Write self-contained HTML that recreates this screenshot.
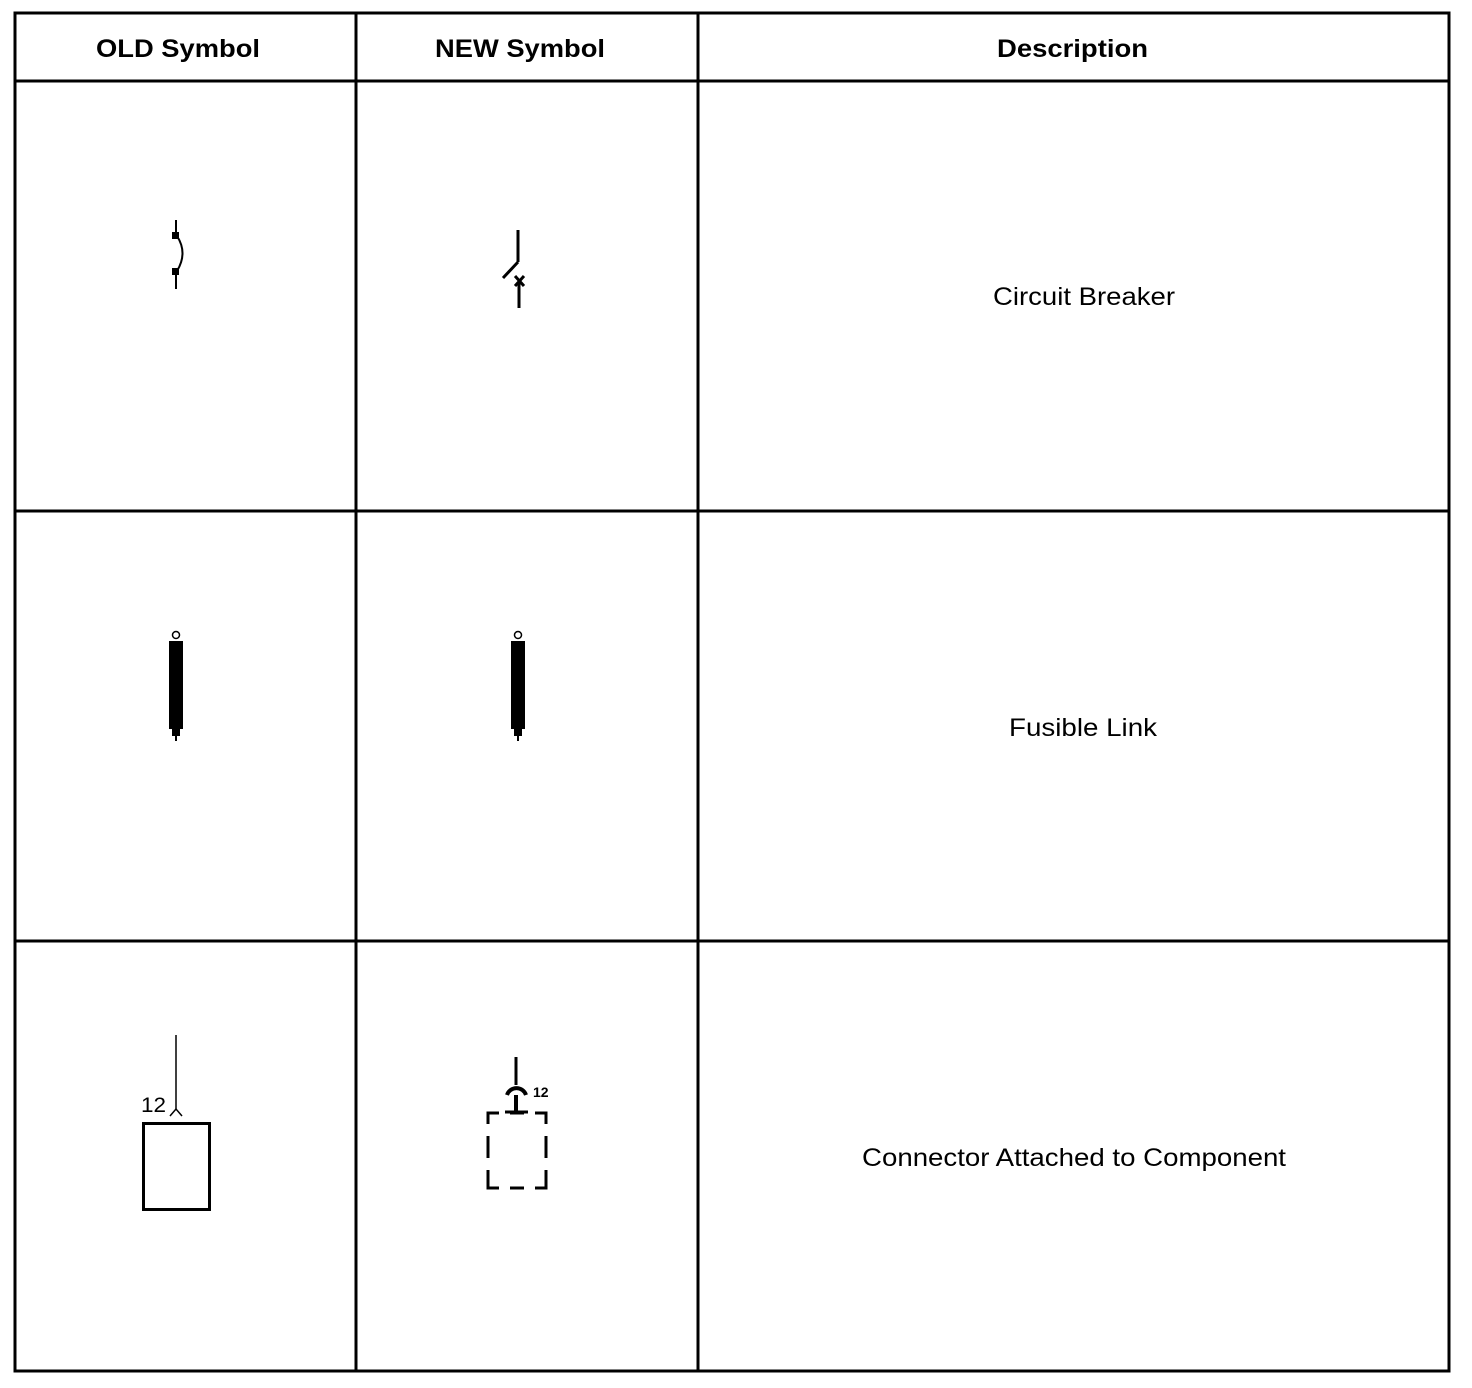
<!DOCTYPE html>
<html><head><style>
html,body{margin:0;padding:0;background:#fff;}
svg{display:block;}
text{font-family:"Liberation Sans",Arial,sans-serif;fill:#000;}
</style></head><body>
<svg width="1472" height="1388" viewBox="0 0 1472 1388" xmlns="http://www.w3.org/2000/svg">
<g stroke="#000" stroke-width="3" fill="none">
<rect x="15" y="13" width="1434" height="1358"/>
<line x1="356" y1="13" x2="356" y2="1371"/>
<line x1="698" y1="13" x2="698" y2="1371"/>
<line x1="15" y1="81" x2="1449" y2="81"/>
<line x1="15" y1="511" x2="1449" y2="511"/>
<line x1="15" y1="941" x2="1449" y2="941"/>
</g>
<g font-size="25" font-weight="bold">
<text x="96" y="57" textLength="164" lengthAdjust="spacingAndGlyphs">OLD Symbol</text>
<text x="435" y="57" textLength="170" lengthAdjust="spacingAndGlyphs">NEW Symbol</text>
<text x="997" y="57" textLength="151" lengthAdjust="spacingAndGlyphs">Description</text>
</g>
<g font-size="25">
<text x="993" y="305" textLength="182" lengthAdjust="spacingAndGlyphs">Circuit Breaker</text>
<text x="1009" y="736" textLength="148" lengthAdjust="spacingAndGlyphs">Fusible Link</text>
<text x="862" y="1166" textLength="424" lengthAdjust="spacingAndGlyphs">Connector Attached to Component</text>
</g>
<!-- old CB -->
<g stroke="#000" fill="none">
<line x1="176" y1="220" x2="176" y2="236" stroke-width="2"/>
<line x1="176" y1="270" x2="176" y2="289" stroke-width="2"/>
<path d="M177 236 Q188 253 177 271" stroke-width="2"/>
</g>
<rect x="172" y="232" width="7" height="7" fill="#000"/>
<rect x="172" y="268" width="7" height="7" fill="#000"/>
<!-- new CB -->
<g stroke="#000" fill="none" stroke-width="3">
<line x1="518" y1="230" x2="518" y2="262"/>
<line x1="518" y1="262" x2="503" y2="278"/>
<line x1="519" y1="282" x2="519" y2="308"/>
<path d="M515 276 L524 286 M524 276 L515 286"/>
</g>
<!-- fusible old -->
<rect x="169" y="641" width="14" height="88" fill="#000"/>
<circle cx="176" cy="635" r="3.5" fill="none" stroke="#000" stroke-width="1.5"/>
<rect x="172" y="728" width="8" height="8" fill="#000"/>
<line x1="176" y1="736" x2="176" y2="741" stroke="#000" stroke-width="2"/>
<!-- fusible new -->
<rect x="511" y="641" width="14" height="88" fill="#000"/>
<circle cx="518" cy="635" r="3.5" fill="none" stroke="#000" stroke-width="1.5"/>
<rect x="514" y="728" width="8" height="8" fill="#000"/>
<line x1="518" y1="736" x2="518" y2="741" stroke="#000" stroke-width="2"/>
<!-- old connector -->
<g stroke="#000" fill="none">
<line x1="176" y1="1035" x2="176" y2="1110" stroke-width="1.5"/>
<path d="M170 1116 L176 1109 L182 1116" stroke-width="1.5"/>
<rect x="143.5" y="1123.5" width="66" height="86" stroke-width="3"/>
</g>
<text x="141" y="1112" font-size="21" textLength="25" lengthAdjust="spacingAndGlyphs">12</text>
<!-- new connector -->
<g stroke="#000" fill="none" stroke-width="3">
<line x1="516" y1="1057" x2="516" y2="1085"/>
<path d="M507 1095 A10 10 0 0 1 526 1095" stroke-width="4"/>
<line x1="516" y1="1095" x2="516" y2="1112" stroke-width="4"/>
<line x1="505" y1="1112" x2="528" y2="1112"/>
<path d="M488 1124 V1113 H499 M510 1113 H524 M535 1113 H546 V1124 M488 1136 V1158 M546 1136 V1158 M488 1170 V1188 H499 M510 1188 H524 M535 1188 H546 V1170"/>
</g>
<text x="533" y="1097" font-size="14" font-weight="bold">12</text>
</svg>
</body></html>
